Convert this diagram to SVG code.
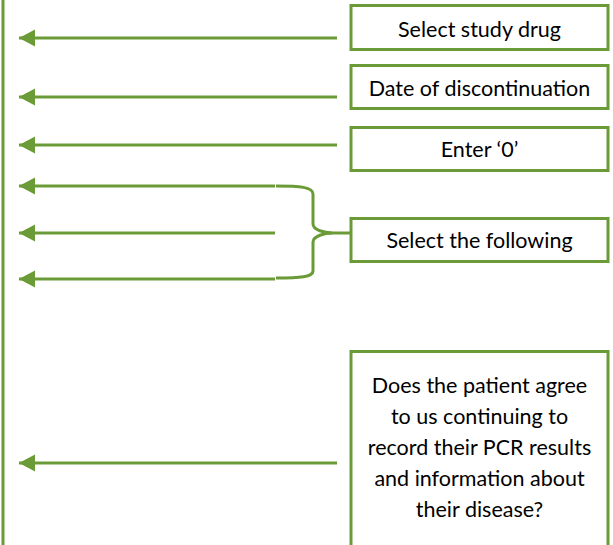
<svg xmlns="http://www.w3.org/2000/svg" width="613" height="545" viewBox="0 0 613 545">
<defs>
<style>
.ln{stroke:#6b9b37;stroke-width:3;fill:none}
.box{fill:#fff;stroke:#6b9b37;stroke-width:3}
.t{font-family:Lato,"Open Sans","Liberation Sans",sans-serif;font-size:21.5px;fill:#000;text-anchor:middle}
</style>
<marker id="ah" markerUnits="userSpaceOnUse" markerWidth="17" markerHeight="18" refX="16" refY="9" orient="auto" viewBox="0 0 17 18">
<path d="M0,0.5 L0,17.5 L16,9 Z" fill="#6b9b37"/>
</marker>
</defs>
<g id="connectors">
<line class="ln" x1="3" y1="0" x2="3" y2="545"/>
<line class="ln" x1="337" y1="38" x2="19" y2="38" marker-end="url(#ah)"/>
<line class="ln" x1="337" y1="97" x2="19" y2="97" marker-end="url(#ah)"/>
<line class="ln" x1="337" y1="145" x2="19" y2="145" marker-end="url(#ah)"/>
<line class="ln" x1="275" y1="186" x2="19" y2="186" marker-end="url(#ah)"/>
<line class="ln" x1="275" y1="233" x2="19" y2="233" marker-end="url(#ah)"/>
<line class="ln" x1="275" y1="279" x2="19" y2="279" marker-end="url(#ah)"/>
<line class="ln" x1="337" y1="463" x2="19" y2="463" marker-end="url(#ah)"/>
<path class="ln" d="M276,186 C300,186 313,187 313,194 L313,224 C313,230 325,233 332,233 L350,233"/>
<path class="ln" d="M332,233 C325,233 313,236 313,242 L313,271 C313,277 300,278 276,278"/>
</g>
<g id="n1"><rect class="box" x="351" y="5.5" width="257" height="44"/><text class="t" x="479.5" y="37">Select study drug</text></g>
<g id="n2"><rect class="box" x="351" y="65.5" width="257" height="43"/><text class="t" x="479.5" y="96">Date of discontinuation</text></g>
<g id="n3"><rect class="box" x="351" y="127.5" width="257" height="43"/><text class="t" x="479.5" y="157">Enter ‘0’</text></g>
<g id="n4"><rect class="box" x="351" y="218.5" width="257" height="43"/><text class="t" x="479.5" y="248">Select the following</text></g>
<g id="n5"><rect class="box" x="351" y="351.5" width="257" height="200"/>
<text class="t" x="479.5"><tspan x="479.5" y="393">Does the patient agree</tspan><tspan x="479.5" y="424">to us continuing to</tspan><tspan x="479.5" y="455">record their PCR results</tspan><tspan x="479.5" y="486">and information about</tspan><tspan x="479.5" y="517">their disease?</tspan></text></g>
</svg>
